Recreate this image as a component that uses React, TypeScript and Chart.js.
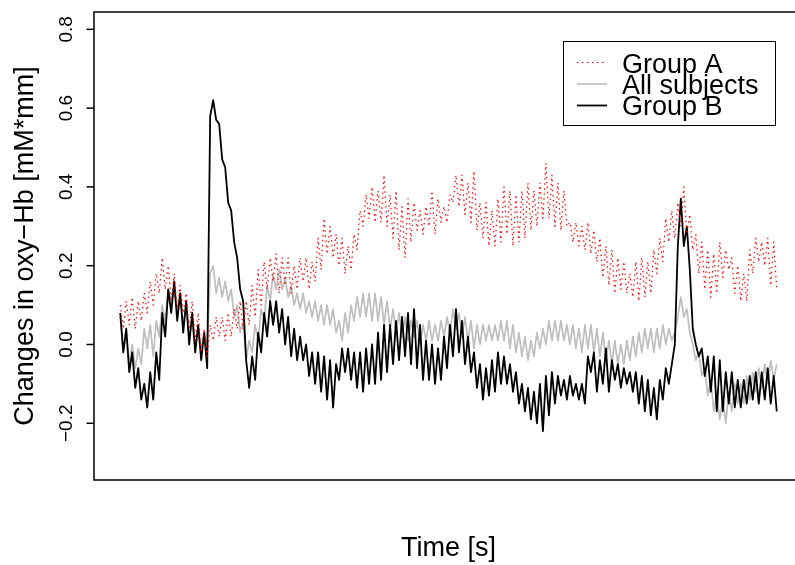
import React, { useEffect, useRef } from "react";
import { Chart, registerables } from "chart.js";

Chart.register(...registerables);

// ---- Data ----
const seriesNames = ["Group A", "All subjects", "Group B"];

const groupA = [
  0.10, 0.04, 0.11, 0.05, 0.12, 0.04, 0.11, 0.06, 0.13, 0.08,
  0.16, 0.10, 0.18, 0.13, 0.22, 0.14, 0.20, 0.11, 0.18, 0.09,
  0.15, 0.08, 0.13, 0.04, 0.11, 0.01, 0.08, -0.02, 0.04, -0.03,
  0.05, 0.01, 0.07, 0.02, 0.07, 0.01, 0.08, 0.02, 0.09, 0.04,
  0.11, 0.04, 0.11, 0.05, 0.15, 0.07, 0.19, 0.10, 0.21, 0.14,
  0.22, 0.16, 0.23, 0.13, 0.22, 0.15, 0.22, 0.13, 0.20, 0.14,
  0.22, 0.16, 0.22, 0.14, 0.21, 0.16, 0.27, 0.19, 0.32, 0.23,
  0.30, 0.22, 0.28, 0.20, 0.27, 0.18, 0.25, 0.19, 0.28, 0.24,
  0.34, 0.30, 0.38, 0.32, 0.40, 0.31, 0.39, 0.31, 0.43, 0.30,
  0.38, 0.27, 0.39, 0.24, 0.35, 0.22, 0.37, 0.26, 0.36, 0.29,
  0.34, 0.28, 0.35, 0.30, 0.39, 0.28, 0.37, 0.31, 0.35, 0.31,
  0.38, 0.36, 0.43, 0.35, 0.43, 0.33, 0.41, 0.31, 0.44, 0.29,
  0.36, 0.27, 0.36, 0.25, 0.34, 0.25, 0.37, 0.26, 0.40, 0.28,
  0.39, 0.25, 0.38, 0.26, 0.39, 0.27, 0.41, 0.29, 0.39, 0.30,
  0.41, 0.32, 0.46, 0.32, 0.43, 0.30, 0.41, 0.29, 0.39, 0.30,
  0.31, 0.26, 0.31, 0.25, 0.30, 0.24, 0.31, 0.23, 0.29, 0.21,
  0.27, 0.17, 0.25, 0.15, 0.24, 0.13, 0.22, 0.14, 0.21, 0.13,
  0.18, 0.12, 0.21, 0.11, 0.22, 0.12, 0.21, 0.13, 0.24, 0.18,
  0.27, 0.21, 0.32, 0.26, 0.34, 0.27, 0.36, 0.30, 0.40, 0.28,
  0.33, 0.24, 0.28, 0.18, 0.26, 0.14, 0.24, 0.12, 0.23, 0.13,
  0.26, 0.17, 0.24, 0.19, 0.22, 0.13, 0.20, 0.11, 0.18, 0.11,
  0.24, 0.18, 0.27, 0.21, 0.26, 0.20, 0.27, 0.15, 0.26, 0.14,
];

const allSubjects = [
  0.07, -0.02, 0.03, -0.05, 0.00, -0.06, -0.01, -0.05, 0.04, -0.01,
  0.05, -0.03, 0.06, 0.02, 0.10, 0.06, 0.14, 0.11, 0.15, 0.08,
  0.13, 0.05, 0.10, 0.02, 0.06, -0.01, 0.04, -0.01, 0.03, -0.01,
  0.18, 0.20, 0.13, 0.17, 0.12, 0.16, 0.11, 0.14, 0.07, 0.10,
  0.03, 0.06, -0.04, 0.01, -0.02, 0.05, 0.01, 0.09, 0.06, 0.15,
  0.11, 0.18, 0.14, 0.19, 0.14, 0.17, 0.12, 0.15, 0.10, 0.13,
  0.09, 0.13, 0.08, 0.11, 0.07, 0.11, 0.06, 0.10, 0.05, 0.10,
  0.05, 0.09, 0.03, 0.06, 0.01, 0.08, 0.03, 0.10, 0.06, 0.12,
  0.07, 0.13, 0.07, 0.13, 0.06, 0.13, 0.06, 0.12, 0.05, 0.11,
  0.04, 0.09, 0.03, 0.08, 0.02, 0.07, 0.01, 0.06, 0.02, 0.06,
  0.00, 0.05, 0.01, 0.06, 0.01, 0.05, 0.01, 0.06, 0.02, 0.07,
  0.03, 0.09, 0.04, 0.08, 0.02, 0.07, 0.01, 0.06, -0.01, 0.05,
  0.00, 0.05, 0.01, 0.05, 0.01, 0.05, 0.01, 0.06, 0.01, 0.06,
  -0.01, 0.05, -0.02, 0.03, -0.03, 0.02, -0.04, 0.01, -0.03, 0.03,
  -0.01, 0.04, 0.00, 0.06, 0.01, 0.06, 0.01, 0.06, 0.01, 0.05,
  0.00, 0.05, -0.01, 0.04, -0.02, 0.05, -0.01, 0.05, -0.02, 0.04,
  -0.03, 0.03, -0.04, 0.01, -0.05, 0.01, -0.05, 0.00, -0.05, 0.01,
  -0.04, 0.02, -0.03, 0.03, -0.02, 0.04, -0.01, 0.04, -0.02, 0.04,
  -0.01, 0.05, 0.00, 0.04, 0.01, 0.03, 0.07, 0.12, 0.07, 0.09,
  0.03, 0.00, -0.04, -0.02, -0.08, -0.06, -0.13, -0.09, -0.17, -0.12,
  -0.19, -0.14, -0.20, -0.12, -0.17, -0.10, -0.15, -0.10, -0.15, -0.08,
  -0.14, -0.07, -0.12, -0.06, -0.11, -0.05, -0.10, -0.04, -0.09, -0.05,
];

const groupB = [
  0.08, -0.02, 0.04, -0.07, -0.02, -0.11, -0.06, -0.14, -0.10, -0.16,
  -0.07, -0.14, -0.02, -0.09, 0.08, 0.02, 0.14, 0.08, 0.16, 0.06,
  0.13, 0.03, 0.11, 0.00, 0.08, -0.02, 0.05, -0.04, 0.03, -0.06,
  0.58, 0.62, 0.57, 0.56, 0.47, 0.45, 0.36, 0.34, 0.26, 0.22,
  0.14, 0.11, -0.04, -0.11, -0.03, -0.09, 0.03, -0.02, 0.08, 0.02,
  0.11, 0.05, 0.11, 0.03, 0.09, 0.00, 0.07, -0.03, 0.04, -0.04,
  0.02, -0.04, 0.00, -0.08, -0.02, -0.10, -0.02, -0.12, -0.03, -0.14,
  -0.04, -0.16, -0.05, -0.09, -0.01, -0.07, -0.01, -0.09, -0.02, -0.11,
  -0.02, -0.12, -0.01, -0.10, 0.00, -0.10, 0.03, -0.09, 0.05, -0.07,
  0.05, -0.05, 0.06, -0.04, 0.07, -0.03, 0.08, -0.05, 0.09, -0.06,
  0.05, -0.09, 0.01, -0.09, 0.00, -0.10, -0.01, -0.09, 0.02, -0.06,
  0.05, -0.03, 0.09, -0.02, 0.06, -0.05, 0.02, -0.07, -0.02, -0.11,
  -0.05, -0.14, -0.06, -0.13, -0.04, -0.12, -0.02, -0.10, -0.03, -0.10,
  -0.05, -0.12, -0.07, -0.15, -0.10, -0.17, -0.11, -0.19, -0.12, -0.20,
  -0.10, -0.22, -0.08, -0.18, -0.07, -0.15, -0.08, -0.13, -0.09, -0.14,
  -0.08, -0.13, -0.10, -0.14, -0.10, -0.15, -0.03, -0.07, -0.02, -0.12,
  -0.04, -0.10, -0.01, -0.12, -0.04, -0.09, -0.05, -0.11, -0.06, -0.10,
  -0.07, -0.12, -0.07, -0.15, -0.08, -0.17, -0.09, -0.18, -0.11, -0.19,
  -0.09, -0.14, -0.06, -0.10, -0.05, 0.00, 0.25, 0.37, 0.25, 0.30,
  0.19, 0.04, 0.00, -0.03, -0.01, -0.08, -0.03, -0.12, -0.03, -0.17,
  -0.04, -0.17, -0.07, -0.15, -0.07, -0.16, -0.09, -0.16, -0.09, -0.15,
  -0.08, -0.14, -0.07, -0.15, -0.07, -0.14, -0.06, -0.15, -0.08, -0.17,
];

// sample times (the x axis carries no tick labels in the reference)
const SAMPLE_INTERVAL_S = 0.5;
const timeS = groupA.map((_, i) => i * SAMPLE_INTERVAL_S);

const yLimits = [-0.3, 0.8];
const yTickValues = [-0.2, 0.0, 0.2, 0.4, 0.6, 0.8];
const yTickLabels = ["\u22120.2", "0.0", "0.2", "0.4", "0.6", "0.8"];
const xTitle = "Time [s]";
const yTitle = "Changes in oxy\u2212Hb [mM*mm]";

const FONT = '"Liberation Sans", Arial, Helvetica, sans-serif';

const toPoints = (vals: number[]) => vals.map((v, i) => ({ x: timeS[i], y: v }));

const rFramePlugin = {
  id: "rFrame",
  afterDraw(chart: any) {
    const { ctx, chartArea: a, scales } = chart;
    const ys = scales.y;
    ctx.save();
    // box
    ctx.strokeStyle = "#000";
    ctx.lineWidth = 1.5;
    ctx.strokeRect(a.left, a.top, a.right - a.left, a.bottom - a.top);

    // y ticks + labels
    ctx.fillStyle = "#000";
    ctx.font = `19px ${FONT}`;
    yTickValues.forEach((v, k) => {
      const py = ys.getPixelForValue(v);
      ctx.beginPath();
      ctx.moveTo(a.left, py);
      ctx.lineTo(a.left - 7.5, py);
      ctx.stroke();
      ctx.save();
      ctx.translate(72, py);
      ctx.rotate(-Math.PI / 2);
      ctx.textAlign = "center";
      ctx.textBaseline = "alphabetic";
      ctx.fillText(yTickLabels[k], 0, 0);
      ctx.restore();
    });

    // axis titles
    ctx.font = `27px ${FONT}`;
    ctx.textAlign = "center";
    ctx.textBaseline = "alphabetic";
    ctx.fillText(xTitle, (a.left + a.right) / 2, 556);
    ctx.save();
    ctx.translate(33, (a.top + a.bottom) / 2);
    ctx.rotate(-Math.PI / 2);
    ctx.fillText(yTitle, 0, 0);
    ctx.restore();

    // legend
    ctx.lineWidth = 1;
    ctx.strokeStyle = "#000";
    ctx.strokeRect(563.5, 41.5, 212, 84);
    const lineY = [62.5, 84, 105.5];
    const textY = [72.5, 93.5, 114.5];
    chart.data.datasets.forEach((ds: any, k: number) => {
      ctx.save();
      ctx.strokeStyle = ds.borderColor;
      ctx.lineWidth = ds.borderWidth;
      ctx.setLineDash(ds.borderDash || []);
      ctx.beginPath();
      ctx.moveTo(577, lineY[k]);
      ctx.lineTo(607, lineY[k]);
      ctx.stroke();
      ctx.restore();
      ctx.textAlign = "left";
      ctx.fillStyle = "#000";
      ctx.fillText(ds.label, 622, textY[k]);
    });
    ctx.restore();
  },
};

export default function App() {
  const ref = useRef<HTMLCanvasElement | null>(null);

  useEffect(() => {
    if (!ref.current) return;
    const span = timeS[timeS.length - 1] - timeS[0];
    const yr = yLimits[1] - yLimits[0];
    const chart = new Chart(ref.current, {
      type: "line",
      data: {
        datasets: [
          {
            label: seriesNames[0],
            data: toPoints(groupA),
            borderColor: "#FF0000",
            borderWidth: 1.2,
            borderDash: [1.5, 3.5],
            pointRadius: 0,
            tension: 0,
            borderJoinStyle: "round",
          },
          {
            label: seriesNames[1],
            data: toPoints(allSubjects),
            borderColor: "#BEBEBE",
            borderWidth: 1.7,
            pointRadius: 0,
            tension: 0,
            borderJoinStyle: "round",
            order: 2,
          },
          {
            label: seriesNames[2],
            data: toPoints(groupB),
            borderColor: "#000000",
            borderWidth: 1.8,
            pointRadius: 0,
            tension: 0,
            borderJoinStyle: "round",
            order: 1,
          },
        ],
      },
      options: {
        responsive: false,
        animation: false,
        events: [],
        layout: { padding: { left: 94, top: 12, right: 9, bottom: 85 } },
        scales: {
          x: {
            type: "linear",
            display: false,
            min: timeS[0] - 0.04 * span,
            max: timeS[timeS.length - 1] + 0.04 * span,
          },
          y: {
            type: "linear",
            display: false,
            min: yLimits[0] - 0.04 * yr,
            max: yLimits[1] + 0.04 * yr,
          },
        },
        plugins: {
          legend: { display: false },
          tooltip: { enabled: false },
        },
      },
      plugins: [rFramePlugin],
    } as any);
    return () => chart.destroy();
  }, []);

  return (
    <div
      style={{
        position: "fixed",
        left: 0,
        top: 0,
        width: 795,
        height: 565,
        overflow: "hidden",
        background: "#fff",
      }}
    >
      <canvas ref={ref} width={812} height={565} style={{ display: "block" }} />
    </div>
  );
}
